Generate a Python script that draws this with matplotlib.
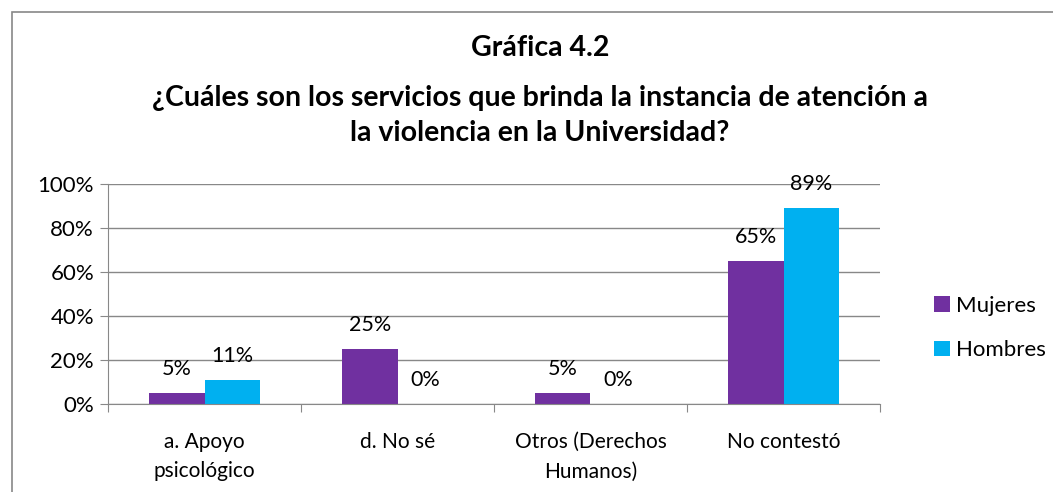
import numpy as np
import matplotlib.pyplot as plt
from matplotlib.patches import Rectangle

plt.rcParams['font.family'] = ['Lato', 'DejaVu Sans']

# data
categories = ['a. Apoyo\npsicológico', 'd. No sé', 'Otros (Derechos\nHumanos)', 'No contestó']
mujeres = [5, 25, 5, 65]
hombres = [11, 0, 0, 89]
series_names = ['Mujeres', 'Hombres']
colors = ['#7030A0', '#00B0F0']

fig = plt.figure(figsize=(10.53, 4.92), dpi=100)
# chart border
fig.patches.append(Rectangle((12 / 1053, -0.1), 1.2, 1 - 12 / 492 + 0.1, transform=fig.transFigure,
                             fill=False, edgecolor='#888888', linewidth=1.2))

ax = fig.add_axes([108 / 1053, 1 - 404 / 492, (880 - 108) / 1053, (404 - 184) / 492])

x = np.arange(len(categories))
w = 0.285
b1 = ax.bar(x - w / 2, mujeres, w, color=colors[0], label=series_names[0])
b2 = ax.bar(x + w / 2, hombres, w, color=colors[1], label=series_names[1])

for bars, vals in ((b1, mujeres), (b2, hombres)):
    for r, v in zip(bars, vals):
        ax.text(r.get_x() + r.get_width() / 2, v + 6.5, f'{v}%', ha='center', va='bottom',
                fontsize=15.5)

ax.set_xlim(-0.5, len(categories) - 0.5)
ax.set_ylim(0, 100)
ax.set_yticks(np.arange(0, 101, 20))
ax.set_yticklabels([f'{t}%' for t in range(0, 101, 20)], fontsize=16)
ax.yaxis.grid(True, color='#888888', linewidth=1)
ax.set_axisbelow(True)

ax.set_xticks(np.arange(-0.5, len(categories), 1))
ax.set_xticklabels([])
ax.set_xticks(x, minor=True)
ax.set_xticklabels(categories, minor=True, fontsize=15, linespacing=1.6)
ax.tick_params(axis='x', which='major', length=6, color='#888888', direction='out')
ax.tick_params(axis='x', which='minor', length=0, pad=20)
ax.tick_params(axis='y', length=6, color='#888888', pad=4)

for s in ['top', 'right']:
    ax.spines[s].set_visible(False)
ax.spines['left'].set_color('#888888')
ax.spines['bottom'].set_color('#888888')

fig.text(540 / 1053, 1 - 48 / 492, 'Gráfica 4.2', ha='center', va='center',
         fontsize=20.5, fontweight='bold')
fig.text(540 / 1053, 1 - 98 / 492, '¿Cuáles son los servicios que brinda la instancia de atención a',
         ha='center', va='center', fontsize=20.5, fontweight='bold')
fig.text(540 / 1053, 1 - 133 / 492, 'la violencia en la Universidad?', ha='center', va='center',
         fontsize=20.5, fontweight='bold')

fig.legend(loc='center left', bbox_to_anchor=(914 / 1053, 1 - 328 / 492), frameon=False,
           fontsize=16, handlelength=0.7, handleheight=0.7, labelspacing=1.1, handletextpad=0.3)

fig.savefig('out.png', dpi=100)
